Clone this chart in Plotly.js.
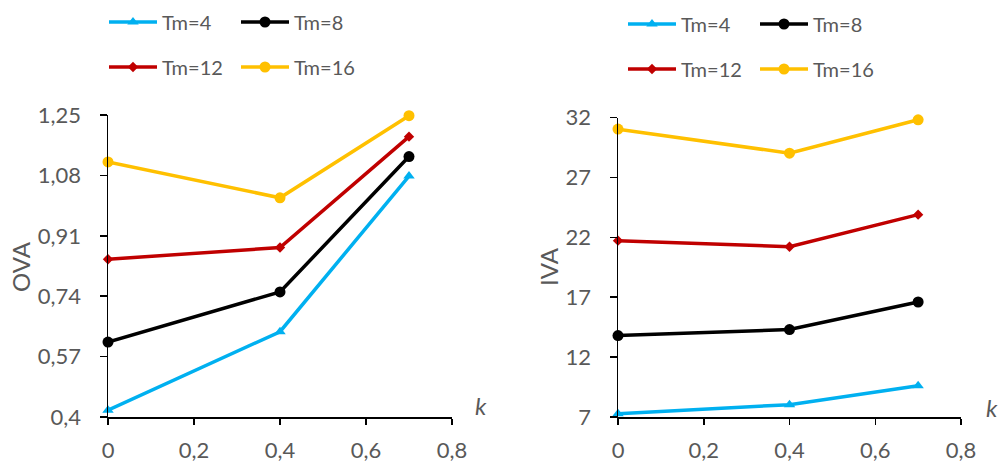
<!DOCTYPE html>
<html><head><meta charset="utf-8">
<script src="https://cdn.plot.ly/plotly-3.0.1.min.js"></script>
<style>html,body{margin:0;padding:0;background:#fff}#chart{width:998px;height:463px}</style>
</head><body><div id="chart"></div>
<script>
const kValues = [0, 0.4, 0.7];
const seriesNames = ['Tm=4', 'Tm=8', 'Tm=12', 'Tm=16'];
const ovaTm4 = [0.419, 0.640, 1.078];
const ovaTm8 = [0.611, 0.752, 1.133];
const ovaTm12 = [0.844, 0.877, 1.189];
const ovaTm16 = [1.118, 1.017, 1.248];
const ivaTm4 = [7.28, 8.03, 9.6];
const ivaTm8 = [13.8, 14.3, 16.6];
const ivaTm12 = [21.72, 21.21, 23.89];
const ivaTm16 = [31.03, 29.02, 31.81];
const ovaTicks = [0.4, 0.57, 0.74, 0.91, 1.08, 1.25];
const ovaTickText = ['0,4', '0,57', '0,74', '0,91', '1,08', '1,25'];
const ivaTicks = [7, 12, 17, 22, 27, 32];
const xTicks = [0, 0.2, 0.4, 0.6, 0.8];
const xTickText = ['0', '0,2', '0,4', '0,6', '0,8'];

const colors = ['#00B0F0', '#000000', '#C00000', '#FFC000'];
const symbols = ['triangle-up', 'circle', 'diamond', 'circle'];
const msizes = [10, 11, 8, 11];
const FONT = 'Lato, "Open Sans", sans-serif';
const GRAY = '#595959';

function mk(i, y, xa, ya, leg) {
  return {x: kValues, y: y, name: seriesNames[i], type: 'scatter', mode: 'lines+markers',
    xaxis: xa, yaxis: ya, legend: leg, cliponaxis: false,
    line: {color: colors[i], width: 3.5}, marker: {color: colors[i], symbol: symbols[i], size: msizes[i]}};
}
const ova = [ovaTm4, ovaTm8, ovaTm12, ovaTm16];
const iva = [ivaTm4, ivaTm8, ivaTm12, ivaTm16];
const traces = [];
for (let i = 0; i < 4; i++) traces.push(mk(i, ova[i], 'x', 'y', i < 2 ? 'legend' : 'legend2'));
for (let i = 0; i < 4; i++) traces.push(mk(i, iva[i], 'x2', 'y2', i < 2 ? 'legend3' : 'legend4'));

const W = 998, H = 463;
const px = v => v / W, py = v => 1 - v / H;

function xax(dom) {
  return {domain: dom, range: [0, 0.8], tickvals: xTicks, ticktext: xTickText, showgrid: false, zeroline: false,
    showline: true, linecolor: '#000', linewidth: 1.5, ticks: 'outside', ticklen: 6, tickcolor: '#000', tickwidth: 1.5,
    tickfont: {family: FONT, size: 22, color: GRAY}, ticklabelstandoff: 7, fixedrange: true};
}
function yax(dom, rng, tv, tt, anchor) {
  return {domain: dom, range: rng, tickvals: tv, ticktext: tt, showgrid: false, zeroline: false, anchor: anchor,
    showline: true, linecolor: '#000', linewidth: 1.5, ticks: 'outside', ticklen: 7, tickcolor: '#000', tickwidth: 1.5,
    tickfont: {family: FONT, size: 22, color: GRAY}, ticklabelstandoff: 14, fixedrange: true};
}
function leg(x, y) {
  return {orientation: 'h', x: x, y: y, xanchor: 'left', yanchor: 'middle', entrywidth: 69, entrywidthmode: 'pixels',
    font: {family: FONT, size: 20, color: GRAY}, bgcolor: 'rgba(0,0,0,0)', itemclick: false, itemdoubleclick: false,
    traceorder: 'normal', itemwidth: 48};
}

const layout = {
  width: W, height: H, margin: {l: 0, r: 0, t: 0, b: 0, autoexpand: false}, paper_bgcolor: '#fff', plot_bgcolor: '#fff',
  showlegend: true, separators: ', ',
  xaxis: xax([px(108), px(452)]),
  yaxis: yax([py(417), py(115)], [0.4, 1.25], ovaTicks, ovaTickText, 'x'),
  xaxis2: Object.assign(xax([px(618), px(961)]), {anchor: 'y2'}),
  yaxis2: yax([py(417), py(117.5)], [7, 32], ivaTicks, ivaTicks.map(String), 'x2'),
  legend: leg(px(104), py(22)),
  legend2: leg(px(104), py(67)),
  legend3: leg(px(623), py(24)),
  legend4: leg(px(623), py(69)),
  annotations: [
    {text: 'k', x: px(481), y: py(405), xref: 'paper', yref: 'paper', showarrow: false, font: {family: FONT, size: 24, color: GRAY, style: 'italic'}, xanchor: 'center', yanchor: 'middle'},
    {text: 'k', x: px(992), y: py(407), xref: 'paper', yref: 'paper', showarrow: false, font: {family: FONT, size: 24, color: GRAY, style: 'italic'}, xanchor: 'center', yanchor: 'middle'},
    {text: 'OVA', x: px(20), y: py(267), xref: 'paper', yref: 'paper', showarrow: false, textangle: -90, font: {family: FONT, size: 24, color: GRAY}, xanchor: 'center', yanchor: 'middle'},
    {text: 'IVA', x: px(548), y: py(267), xref: 'paper', yref: 'paper', showarrow: false, textangle: -90, font: {family: FONT, size: 24, color: GRAY}, xanchor: 'center', yanchor: 'middle'}
  ]
};
Plotly.newPlot('chart', traces, layout, {displayModeBar: false, staticPlot: true});
</script></body></html>
